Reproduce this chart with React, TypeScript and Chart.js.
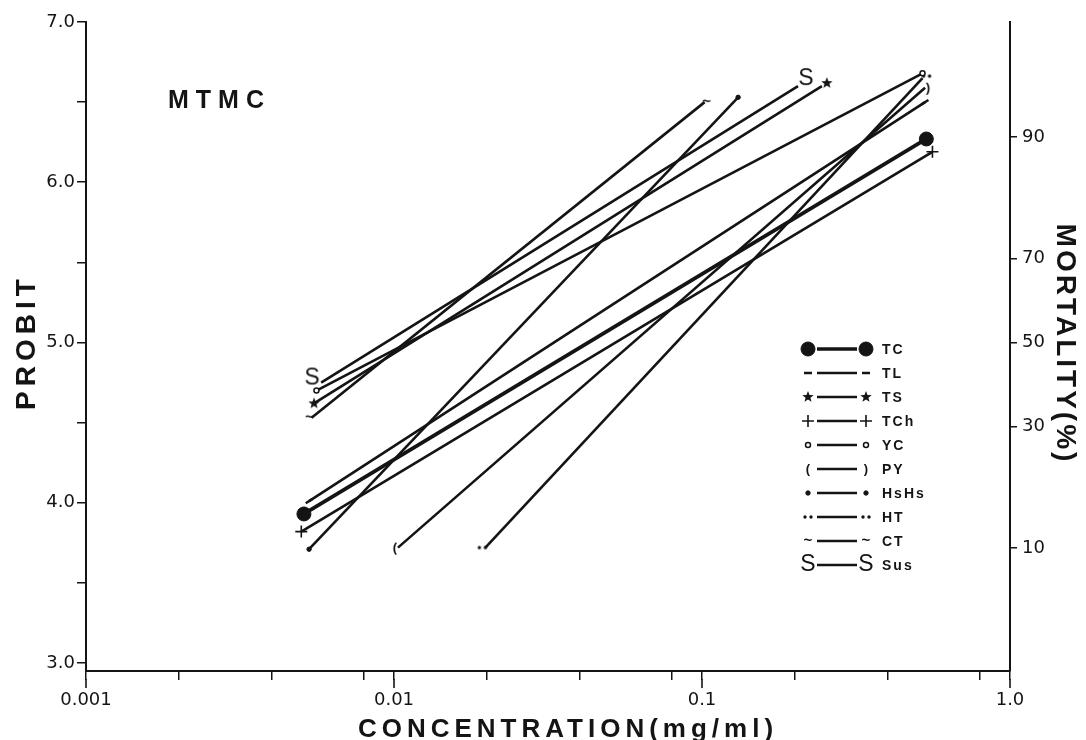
import React, { useEffect, useRef } from 'react';
import { Chart, registerables } from 'chart.js';
import { drawPoint } from 'chart.js/helpers';

Chart.register(...registerables);

// ---- data ----
const seriesLabels = ['TC', 'TL', 'TS', 'TCh', 'YC', 'PY', 'HsHs', 'HT', 'CT', 'Sus'];
const startConc = [0.0051, 0.0053, 0.0055, 0.005, 0.0056, 0.0103, 0.0053, 0.0198, 0.0054, 0.0058];
const startProbit = [3.93, 4.01, 4.62, 3.82, 4.7, 3.72, 3.71, 3.72, 4.53, 4.75];
const endConc = [0.535, 0.53, 0.245, 0.56, 0.52, 0.53, 0.131, 0.52, 0.102, 0.205];
const endProbit = [6.27, 6.5, 6.6, 6.19, 6.68, 6.59, 6.53, 6.65, 6.5, 6.6];

const xTickValues = [0.001, 0.002, 0.004, 0.008, 0.01, 0.02, 0.04, 0.08, 0.1, 0.2, 0.4, 0.8, 1];
const xTickLabels = ['0.001', '', '', '', '0.01', '', '', '', '0.1', '', '', '', '1.0'];
const xMajorValues = [0.001, 0.01, 0.1, 1];
const yTickValues = [3, 3.5, 4, 4.5, 5, 5.5, 6, 6.5, 7];
const yTickLabels = ['3.0', '', '4.0', '', '5.0', '', '6.0', '', '7.0'];
const mortalityPercent = ['10', '30', '50', '70', '90'];
const mortalityProbit = [3.718, 4.476, 5.0, 5.524, 6.282];

const INK = '#141414';
const FONT = '"Liberation Sans", Arial, Helvetica, sans-serif';
const TICKFONT = '"DejaVu Sans", "Liberation Sans", sans-serif';

function glyph(text: string, font: string, dx = 0, dy = 0, size = 44) {
  const c = document.createElement('canvas');
  c.width = size;
  c.height = size;
  const g = c.getContext('2d')!;
  g.fillStyle = INK;
  g.font = font;
  g.textAlign = 'center';
  g.textBaseline = 'middle';
  g.fillText(text, size / 2 + dx, size / 2 + dy);
  return c;
}

function starCanvas(r: number, dx = 0, dy = 0) {
  const size = 30;
  const c = document.createElement('canvas');
  c.width = size;
  c.height = size;
  const g = c.getContext('2d')!;
  g.fillStyle = INK;
  g.beginPath();
  for (let k = 0; k < 10; k++) {
    const rad = k % 2 === 0 ? r : r * 0.42;
    const a = -Math.PI / 2 + (k * Math.PI) / 5;
    const px = size / 2 + dx + Math.cos(a) * rad;
    const py = size / 2 + dy + Math.sin(a) * rad;
    if (k === 0) g.moveTo(px, py);
    else g.lineTo(px, py);
  }
  g.closePath();
  g.fill();
  return c;
}

function twoDots(dx = 0, dy = 0) {
  const size = 24;
  const c = document.createElement('canvas');
  c.width = size;
  c.height = size;
  const g = c.getContext('2d')!;
  g.fillStyle = INK;
  [-3, 3].forEach((o) => {
    g.beginPath();
    g.arc(size / 2 + dx + o, size / 2 + dy, 1.7, 0, Math.PI * 2);
    g.fill();
  });
  return c;
}

type Marker = {
  start: any;
  end: any;
  legStart: any;
  legEnd: any;
  radius: number;
  rotation: number;
  fill: string;
  bw: number;
};

function buildMarkers(): Marker[] {
  const sFont = `23px ${FONT}`;
  const pFont = `bold 13px ${FONT}`;
  const tFont = `bold 15px ${FONT}`;
  return [
    { start: 'circle', end: 'circle', legStart: 'circle', legEnd: 'circle', radius: 7, rotation: 0, fill: INK, bw: 1 },
    { start: 'line', end: 'line', legStart: 'line', legEnd: 'line', radius: 4, rotation: -33, fill: INK, bw: 2.5 },
    { start: starCanvas(6), end: starCanvas(6, 5, -3), legStart: starCanvas(6), legEnd: starCanvas(6), radius: 6, rotation: 0, fill: INK, bw: 1 },
    { start: 'cross', end: 'cross', legStart: 'cross', legEnd: 'cross', radius: 6, rotation: 0, fill: INK, bw: 1.6 },
    { start: 'circle', end: 'circle', legStart: 'circle', legEnd: 'circle', radius: 2.5, rotation: 0, fill: '#ffffff', bw: 1.5 },
    { start: glyph('(', pFont, -3, 0), end: glyph(')', pFont, 3, 0), legStart: glyph('(', pFont), legEnd: glyph(')', pFont), radius: 5, rotation: 0, fill: INK, bw: 1 },
    { start: 'circle', end: 'circle', legStart: 'circle', legEnd: 'circle', radius: 2.2, rotation: 0, fill: INK, bw: 1 },
    { start: twoDots(-3, 0), end: twoDots(4, -2), legStart: twoDots(), legEnd: twoDots(), radius: 4, rotation: 0, fill: INK, bw: 1 },
    { start: glyph('~', tFont, -2, 0), end: glyph('~', tFont, 2, 0), legStart: glyph('~', tFont), legEnd: glyph('~', tFont), radius: 4, rotation: 0, fill: INK, bw: 1 },
    { start: glyph('S', sFont, -9, -4), end: glyph('S', sFont, 8, -7), legStart: glyph('S', sFont), legEnd: glyph('S', sFont), radius: 8, rotation: 0, fill: INK, bw: 1 },
  ];
}

export default function App() {
  const ref = useRef<HTMLCanvasElement>(null);

  useEffect(() => {
    const canvas = ref.current;
    if (!canvas) return;
    const markers = buildMarkers();

    const datasets = seriesLabels.map((label, i) => ({
      label,
      data: [
        { x: startConc[i], y: startProbit[i] },
        { x: endConc[i], y: endProbit[i] },
      ],
      borderColor: INK,
      backgroundColor: INK,
      borderWidth: i === 0 ? 3.8 : 2.6,
      borderCapStyle: 'butt' as const,
      tension: 0,
      fill: false,
      pointStyle: [markers[i].start, markers[i].end],
      pointRadius: markers[i].radius,
      pointRotation: markers[i].rotation,
      pointBackgroundColor: markers[i].fill,
      pointBorderColor: INK,
      pointBorderWidth: markers[i].bw,
      pointHoverRadius: markers[i].radius,
      xAxisID: 'x',
      yAxisID: 'y',
    }));

    const decor = {
      id: 'decor',
      afterDraw(chart: any) {
        const ctx: CanvasRenderingContext2D = chart.ctx;
        const xs = chart.scales.x;
        ctx.save();
        ctx.fillStyle = INK;
        ctx.strokeStyle = INK;

        // longer marks for the decade ticks
        ctx.lineWidth = 1.6;
        xMajorValues.forEach((v) => {
          const px = xs.getPixelForValue(v);
          ctx.beginPath();
          ctx.moveTo(px, xs.top + 8);
          ctx.lineTo(px, xs.top + 17);
          ctx.stroke();
        });

        // inset label
        ctx.font = `bold 25px ${FONT}`;
        (ctx as any).letterSpacing = '7px';
        ctx.textAlign = 'left';
        ctx.textBaseline = 'alphabetic';
        ctx.fillText('MTMC', 168, 108);

        // x title
        ctx.font = `bold 26px ${FONT}`;
        (ctx as any).letterSpacing = '5px';
        ctx.textAlign = 'center';
        ctx.fillText('CONCENTRATION(mg/ml)', 568, 737);

        // left title
        ctx.save();
        ctx.translate(35, 342);
        ctx.rotate(-Math.PI / 2);
        ctx.font = `bold 28px ${FONT}`;
        (ctx as any).letterSpacing = '5px';
        ctx.fillText('PROBIT', 0, 0);
        ctx.restore();

        // right title
        ctx.save();
        ctx.translate(1057, 344);
        ctx.rotate(Math.PI / 2);
        ctx.font = `bold 28px ${FONT}`;
        (ctx as any).letterSpacing = '3px';
        ctx.fillText('MORTALITY(%)', 0, 0);
        ctx.restore();

        // legend
        (ctx as any).letterSpacing = '2px';
        ctx.font = `bold 14px ${FONT}`;
        ctx.textAlign = 'left';
        ctx.textBaseline = 'middle';
        seriesLabels.forEach((label, i) => {
          const y = 349 + i * 24;
          const mk = markers[i];
          ctx.lineWidth = i === 0 ? 3.4 : 2.4;
          ctx.beginPath();
          ctx.moveTo(817, y);
          ctx.lineTo(857, y);
          ctx.stroke();
          const opts = { pointStyle: mk.legStart, rotation: 0, radius: mk.radius, borderWidth: mk.bw };
          ctx.fillStyle = mk.fill;
          ctx.lineWidth = mk.bw;
          drawPoint(ctx, opts as any, 808, y);
          drawPoint(ctx, { ...opts, pointStyle: mk.legEnd } as any, 866, y);
          ctx.fillStyle = INK;
          ctx.fillText(label, 882, y + 1);
        });
        ctx.restore();
      },
    };

    const chart = new Chart(canvas, {
      type: 'line',
      data: { datasets: datasets as any },
      options: {
        responsive: false,
        animation: false,
        events: [],
        layout: { padding: { top: 22, left: 0, right: 0, bottom: 0 } },
        plugins: { legend: { display: false }, tooltip: { enabled: false } },
        scales: {
          x: {
            type: 'logarithmic',
            position: 'bottom',
            min: 0.001,
            max: 1,
            afterBuildTicks: (s: any) => {
              s.ticks = xTickValues.map((v) => ({ value: v }));
            },
            afterFit: (s: any) => {
              s.height = 69;
            },
            ticks: {
              callback: (_v: any, i: number) => xTickLabels[i],
              autoSkip: false,
              maxRotation: 0,
              minRotation: 0,
              color: INK,
              font: { family: TICKFONT, size: 18 },
              padding: 10,
            },
            grid: { display: true, drawOnChartArea: false, drawTicks: true, tickLength: 9, color: INK, lineWidth: 1.5 },
            border: { display: true, color: INK, width: 2 },
          },
          y: {
            type: 'linear',
            position: 'left',
            min: 2.95,
            max: 7.0,
            afterBuildTicks: (s: any) => {
              s.ticks = yTickValues.map((v) => ({ value: v }));
            },
            afterFit: (s: any) => {
              s.width = 86;
            },
            ticks: {
              callback: (_v: any, i: number) => yTickLabels[i],
              autoSkip: false,
              color: INK,
              font: { family: TICKFONT, size: 18 },
              padding: 2,
            },
            grid: { display: true, drawOnChartArea: false, drawTicks: true, tickLength: 9, color: INK, lineWidth: 1.5 },
            border: { display: true, color: INK, width: 2 },
          },
          yR: {
            type: 'linear',
            position: 'right',
            min: 2.95,
            max: 7.0,
            afterBuildTicks: (s: any) => {
              s.ticks = mortalityProbit.map((v) => ({ value: v }));
            },
            afterFit: (s: any) => {
              s.width = 76;
            },
            ticks: {
              callback: (_v: any, i: number) => mortalityPercent[i],
              autoSkip: false,
              color: INK,
              font: { family: TICKFONT, size: 18 },
              padding: 5,
            },
            grid: { display: true, drawOnChartArea: false, drawTicks: true, tickLength: 7, color: INK, lineWidth: 1.5 },
            border: { display: true, color: INK, width: 2 },
          },
        },
      },
      plugins: [decor as any],
    });

    return () => chart.destroy();
  }, []);

  return (
    <div style={{ position: 'fixed', left: 0, top: 0, width: 1086, height: 740, background: '#ffffff' }}>
      <canvas ref={ref} width={1086} height={740} style={{ display: 'block', width: 1086, height: 740 }} />
    </div>
  );
}
